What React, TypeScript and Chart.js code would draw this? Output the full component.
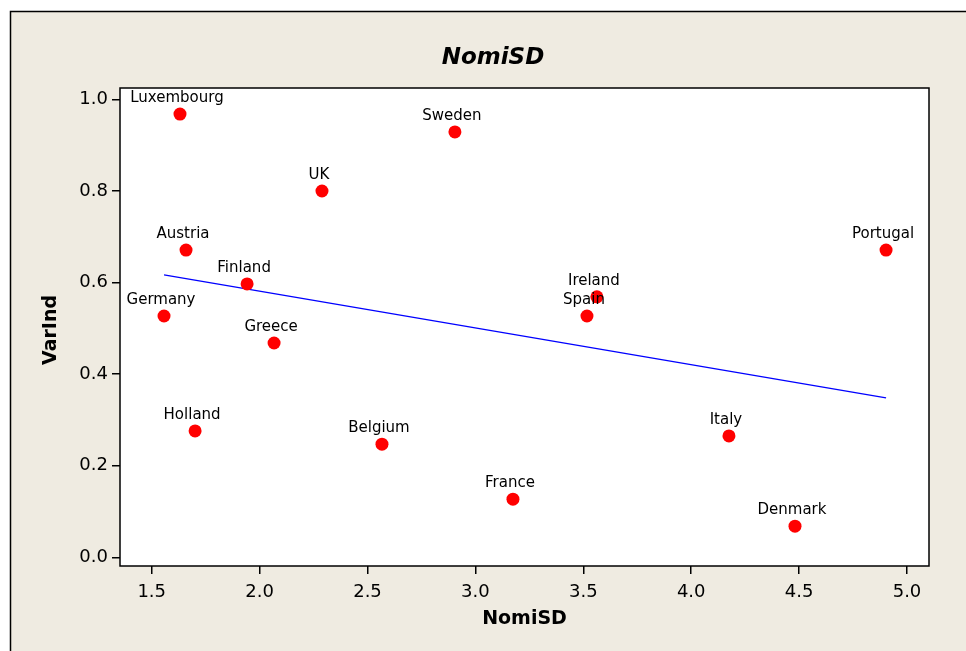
import React, { useEffect, useRef } from "react";
import { Chart, registerables } from "chart.js";

Chart.register(...registerables);

// Countries and their (NomiSD, VarInd) values
const countries = [
  "Luxembourg", "Sweden", "UK", "Austria", "Finland", "Germany", "Greece",
  "Holland", "Belgium", "France", "Ireland", "Spain", "Italy", "Denmark", "Portugal",
];
const nomiSD = [
  1.631, 2.905, 2.289, 1.659, 1.942, 1.557, 2.067,
  1.701, 2.567, 3.174, 3.563, 3.517, 4.175, 4.481, 4.903,
];
const varInd = [
  0.968, 0.929, 0.800, 0.671, 0.597, 0.527, 0.468,
  0.276, 0.247, 0.127, 0.569, 0.527, 0.265, 0.068, 0.671,
];

// Fitted regression line end points
const fitX = [1.557, 4.903];
const fitY = [0.617, 0.348];

// Axis ticks
const xTicks = [1.5, 2.0, 2.5, 3.0, 3.5, 4.0, 4.5, 5.0];
const yTicks = [0.0, 0.2, 0.4, 0.6, 0.8, 1.0];

const FONT = "'DejaVu Sans', Tahoma, Verdana, sans-serif";

const framePlugin = {
  id: "frame",
  beforeDraw(chart: any) {
    const { ctx, width, height, chartArea: a } = chart;
    ctx.save();
    ctx.fillStyle = "#ffffff";
    ctx.fillRect(0, 0, width, height);
    ctx.fillStyle = "#efebe1";
    ctx.fillRect(10, 11, width - 10, height - 11);
    ctx.strokeStyle = "#000000";
    ctx.lineWidth = 1.5;
    ctx.beginPath();
    ctx.moveTo(10.5, height);
    ctx.lineTo(10.5, 11.5);
    ctx.lineTo(width, 11.5);
    ctx.stroke();
    ctx.fillStyle = "#ffffff";
    ctx.fillRect(a.left, a.top, a.right - a.left, a.bottom - a.top);
    ctx.restore();
  },
  afterDraw(chart: any) {
    const { ctx, chartArea: a } = chart;
    ctx.save();
    ctx.strokeStyle = "#000000";
    ctx.lineWidth = 1.5;
    ctx.strokeRect(a.left, a.top, a.right - a.left, a.bottom - a.top);

    // Titles
    ctx.fillStyle = "#000000";
    ctx.textAlign = "center";
    ctx.textBaseline = "middle";
    ctx.font = `italic bold 23px ${FONT}`;
    ctx.fillText("NomiSD", 493, 58);
    ctx.font = `bold 19px ${FONT}`;
    ctx.fillText("NomiSD", (a.left + a.right) / 2, 619);
    ctx.save();
    ctx.translate(51, 330);
    ctx.rotate(-Math.PI / 2);
    ctx.fillText("VarInd", 0, 0);
    ctx.restore();
    ctx.restore();
  },
};

const pointLabelPlugin = {
  id: "pointLabels",
  afterDatasetsDraw(chart: any) {
    const { ctx } = chart;
    const meta = chart.getDatasetMeta(0);
    ctx.save();
    ctx.fillStyle = "#000000";
    ctx.font = `15px ${FONT}`;
    ctx.textAlign = "center";
    ctx.textBaseline = "alphabetic";
    meta.data.forEach((el: any, i: number) => {
      ctx.fillText(countries[i], el.x - 3, el.y - 12);
    });
    ctx.restore();
  },
};

export default function App() {
  const ref = useRef<HTMLCanvasElement>(null);

  useEffect(() => {
    if (!ref.current) return;
    const chart = new Chart(ref.current, {
      type: "scatter",
      data: {
        datasets: [
          {
            data: nomiSD.map((x, i) => ({ x, y: varInd[i] })),
            backgroundColor: "#ff0000",
            borderWidth: 0,
            pointRadius: 6.5,
            pointHoverRadius: 6.5,
          },
          {
            data: fitX.map((x, i) => ({ x, y: fitY[i] })),
            showLine: true,
            borderColor: "#0000ff",
            borderWidth: 1.3,
            pointRadius: 0,
            pointHoverRadius: 0,
            fill: false,
          },
        ],
      },
      options: {
        responsive: false,
        animation: false,
        events: [],
        layout: { padding: { left: 0, top: 88, right: 37, bottom: 0 } },
        plugins: { legend: { display: false }, tooltip: { enabled: false }, title: { display: false } },
        scales: {
          x: {
            type: "linear",
            min: 1.353,
            max: 5.102,
            afterBuildTicks: (s: any) => {
              s.ticks = xTicks.map((v) => ({ value: v }));
            },
            afterFit: (s: any) => {
              s.height = 85;
            },
            border: { display: false },
            grid: { drawOnChartArea: false, drawTicks: true, tickLength: 8, color: "#000000", lineWidth: 1.5 },
            ticks: {
              color: "#000000",
              font: { family: FONT, size: 18 },
              padding: 8,
              maxRotation: 0,
              callback: (v: any) => Number(v).toFixed(1),
            },
          },
          y: {
            type: "linear",
            min: -0.019,
            max: 1.025,
            afterBuildTicks: (s: any) => {
              s.ticks = yTicks.map((v) => ({ value: v }));
            },
            afterFit: (s: any) => {
              s.width = 120;
            },
            border: { display: false },
            grid: { drawOnChartArea: false, drawTicks: true, tickLength: 8, color: "#000000", lineWidth: 1.5 },
            ticks: {
              color: "#000000",
              font: { family: FONT, size: 18 },
              padding: 4,
              callback: (v: any) => Number(v).toFixed(1),
            },
          },
        },
      },
      plugins: [framePlugin, pointLabelPlugin],
    });
    return () => chart.destroy();
  }, []);

  return (
    <div style={{ position: "absolute", left: 0, top: 0, width: 966, height: 651 }}>
      <canvas ref={ref} width={966} height={651} />
    </div>
  );
}
